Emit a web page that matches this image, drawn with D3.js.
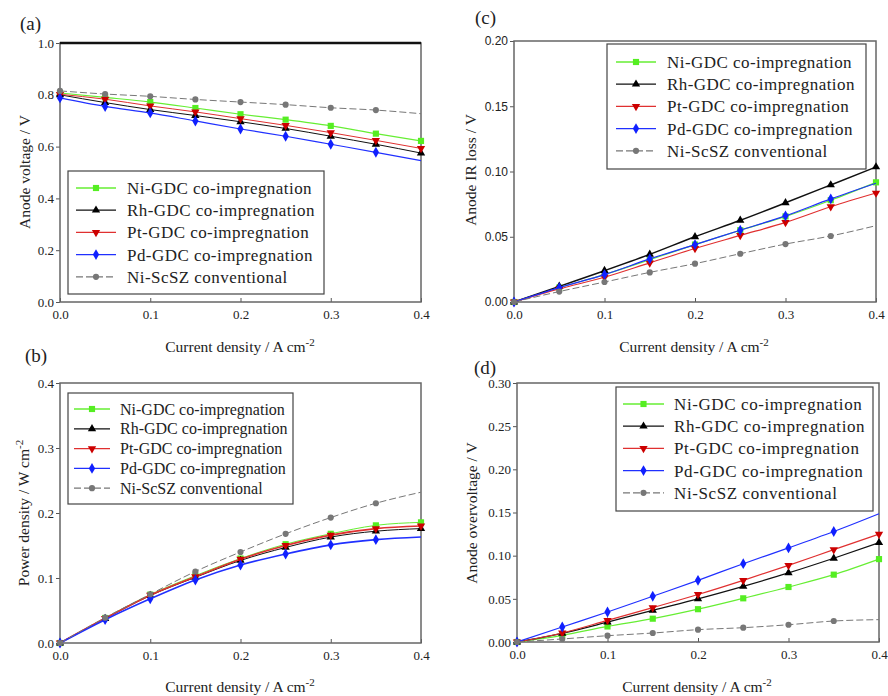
<!DOCTYPE html>
<html>
<head>
<meta charset="utf-8">
<script src="https://cdn.jsdelivr.net/npm/d3@7"></script>
<style>
  body { margin: 0; background: #fff; }
  svg { display: block; }
  text { font-family: "Liberation Serif", "Times New Roman", serif; fill: #222; }
</style>
</head>
<body>
<svg id="fig" width="888" height="696"></svg>
<script>
// current density steps, A cm-2
const currents = [0, 0.05, 0.1, 0.15, 0.2, 0.25, 0.3, 0.35, 0.4];

const seriesNames = [
  'Ni-GDC co-impregnation',
  'Rh-GDC co-impregnation',
  'Pt-GDC co-impregnation',
  'Pd-GDC co-impregnation',
  'Ni-ScSZ conventional',
];

// (a) anode voltage, V   (order: Ni, Rh, Pt, Pd, ScSZ)
const anodeVoltage = [
  [0.807, 0.790, 0.772, 0.749, 0.725, 0.704, 0.680, 0.650, 0.622],
  [0.800, 0.770, 0.743, 0.720, 0.696, 0.670, 0.640, 0.609, 0.575],
  [0.802, 0.783, 0.757, 0.734, 0.708, 0.682, 0.654, 0.624, 0.593],
  [0.788, 0.755, 0.730, 0.699, 0.668, 0.640, 0.609, 0.578, 0.546],
  [0.815, 0.803, 0.794, 0.782, 0.772, 0.762, 0.750, 0.741, 0.727],
];

// (b) power density, W cm-2
const powerDensity = [
  [0, 0.0385, 0.0744, 0.1036, 0.130, 0.152, 0.168, 0.181, 0.1856],
  [0, 0.0375, 0.0730, 0.1010, 0.127, 0.147, 0.163, 0.172, 0.176],
  [0, 0.0380, 0.0735, 0.1020, 0.129, 0.150, 0.166, 0.176, 0.180],
  [0, 0.0359, 0.0680, 0.0970, 0.120, 0.137, 0.151, 0.159, 0.163],
  [0, 0.0390, 0.0750, 0.1100, 0.140, 0.168, 0.193, 0.215, 0.232],
];

// (c) anode IR loss, V
const irLoss = [
  [0, 0.011, 0.021, 0.0324, 0.044, 0.055, 0.0656, 0.078, 0.0917],
  [0, 0.012, 0.024, 0.0365, 0.050, 0.0626, 0.076, 0.0897, 0.1035],
  [0, 0.010, 0.019, 0.030, 0.041, 0.051, 0.061, 0.073, 0.0835],
  [0, 0.011, 0.021, 0.033, 0.044, 0.055, 0.066, 0.079, 0.091],
  [0, 0.008, 0.0153, 0.0227, 0.0294, 0.037, 0.0444, 0.0506, 0.0585],
];

// (d) anode overvoltage, V
const overvoltage = [
  [0, 0.0077, 0.018, 0.027, 0.038, 0.0506, 0.0637, 0.078, 0.096],
  [0, 0.010, 0.023, 0.0367, 0.050, 0.0645, 0.080, 0.097, 0.115],
  [0, 0.0104, 0.025, 0.0398, 0.055, 0.0714, 0.0888, 0.107, 0.125],
  [0, 0.0174, 0.0347, 0.053, 0.0714, 0.0907, 0.109, 0.128, 0.1486],
  [0, 0.0035, 0.0073, 0.0104, 0.0143, 0.0166, 0.020, 0.0243, 0.0259],
];

const xTicks = [0, 0.1, 0.2, 0.3, 0.4];

const styles = [
  { line: '#66ee33', fill: '#55ee22', shape: d3.symbolSquare, size: 38, dash: null, lastMark: true },
  { line: '#111', fill: '#000', shape: d3.symbolTriangle, size: 30, dash: null, lastMark: true },
  { line: '#e03030', fill: '#cc0000', shape: 'down', size: 30, dash: null, lastMark: true },
  { line: '#2030ff', fill: '#1020ff', shape: d3.symbolDiamond, size: 34, dash: null, lastMark: false },
  { line: '#777', fill: '#777', shape: d3.symbolCircle, size: 30, dash: '7,3', lastMark: false },
];

const svg = d3.select('#fig');

function symbolPath(s) {
  if (s.shape === 'down') {
    return d3.symbol(d3.symbolTriangle, s.size)();
  }
  return d3.symbol(s.shape, s.size)();
}

function drawPanel(p) {
  const x = d3.scaleLinear().domain([0, 0.4]).range([p.x0, p.x1]);
  const y = d3.scaleLinear().domain([0, p.yMax]).range([p.yBot, p.yTop]);
  const g = svg.append('g');

  // axes
  const xAxis = g.append('g')
    .attr('transform', `translate(0,${p.yBot})`)
    .call(d3.axisBottom(x).tickValues(xTicks).tickFormat(d3.format('.1f'))
      .tickSizeInner(-4).tickSizeOuter(0).tickPadding(8));
  xAxis.select('.domain').remove();
  xAxis.selectAll('line').attr('stroke', '#555');
  xAxis.selectAll('text')
    .style('font-family', '"Liberation Serif", serif')
    .style('font-size', '13px').attr('fill', '#333');

  const yAxis = g.append('g')
    .attr('transform', `translate(${p.x0},0)`)
    .call(d3.axisLeft(y).tickValues(p.yTicks).tickFormat(d3.format(p.fmt))
      .tickSizeInner(4).tickSizeOuter(0).tickPadding(2));
  yAxis.select('.domain').remove();
  yAxis.selectAll('line').attr('stroke', '#555');
  yAxis.selectAll('text')
    .style('font-family', p.tickFont)
    .style('font-size', p.tickSize).attr('fill', '#333');

  // frame
  g.append('rect')
    .attr('x', p.x0).attr('y', p.yTop)
    .attr('width', p.x1 - p.x0).attr('height', p.yBot - p.yTop)
    .attr('fill', 'none').attr('stroke', '#666').attr('stroke-width', 1.5);
  if (p.thickTop) {
    g.append('line')
      .attr('x1', p.x0).attr('x2', p.x1)
      .attr('y1', p.yTop).attr('y2', p.yTop)
      .attr('stroke', '#111').attr('stroke-width', 2.5);
  }

  // series
  const line = d3.line()
    .x((d, i) => x(currents[i]))
    .y((d) => y(d))
    .curve(d3.curveMonotoneX);

  p.data.forEach((vals, k) => {
    const s = styles[k];
    g.append('path')
      .datum(vals)
      .attr('d', line)
      .attr('fill', 'none')
      .attr('stroke', s.line)
      .attr('stroke-width', p.widths[k])
      .attr('stroke-dasharray', s.dash);
    const pts = s.lastMark ? vals : vals.slice(0, vals.length - 1);
    g.selectAll(null)
      .data(pts)
      .enter()
      .append('path')
      .attr('d', symbolPath(s))
      .attr('transform', (d, i) => `translate(${x(currents[i])},${y(d)})${s.shape === 'down' ? ' rotate(180)' : ''}`)
      .attr('fill', s.fill);
  });

  // legend
  const L = p.legend;
  g.append('rect')
    .attr('x', L.x).attr('y', L.y)
    .attr('width', L.w).attr('height', L.h)
    .attr('fill', '#fff').attr('stroke', '#444').attr('stroke-width', 1.2);
  seriesNames.forEach((name, k) => {
    const s = styles[k];
    const ry = L.row0 + k * L.step;
    g.append('line')
      .attr('x1', L.lx0).attr('x2', L.lx1)
      .attr('y1', ry).attr('y2', ry)
      .attr('stroke', s.line).attr('stroke-width', 1.3)
      .attr('stroke-dasharray', s.dash);
    g.append('path')
      .attr('d', symbolPath(s))
      .attr('transform', `translate(${(L.lx0 + L.lx1) / 2},${ry})${s.shape === 'down' ? ' rotate(180)' : ''}`)
      .attr('fill', s.fill);
    g.append('text')
      .attr('x', L.tx).attr('y', ry)
      .attr('dy', '0.35em')
      .style('font-size', L.font)
      .style('letter-spacing', L.spacing)
      .attr('fill', '#111')
      .text(name);
  });

  // panel letter
  svg.append('text')
    .attr('x', p.tag[0]).attr('y', p.tag[1])
    .style('font-size', '19px').attr('fill', '#222')
    .text(p.tagText);

  // axis titles
  const xl = svg.append('text')
    .attr('x', p.xLabel[0]).attr('y', p.xLabel[1])
    .attr('text-anchor', 'middle')
    .style('font-size', '15.5px').attr('fill', '#111');
  xl.append('tspan').text('Current density / A cm');
  xl.append('tspan').attr('dy', -6).style('font-size', '11px').text('-2');

  const yl = svg.append('text')
    .attr('transform', `translate(${p.yLabel[0]},${p.yLabel[1]}) rotate(-90)`)
    .attr('text-anchor', 'middle')
    .style('font-size', '15.5px').attr('fill', '#111');
  yl.append('tspan').text(p.yText);
  if (p.ySup) {
    yl.append('tspan').attr('dy', -6).style('font-size', '11px').text(p.ySup);
  }
}

const serifTicks = '"Liberation Serif", serif';
const sansTicks = '"Liberation Sans", Arial, sans-serif';

drawPanel({
  data: anodeVoltage, x0: 60, x1: 421, yTop: 43, yBot: 302, yMax: 1.0,
  yTicks: [0, 0.2, 0.4, 0.6, 0.8, 1.0], fmt: '.1f', tickFont: serifTicks, tickSize: '13px',
  widths: [1.2, 1, 1, 1.2, 1], thickTop: true,
  legend: { x: 68, y: 171, w: 256, h: 123, row0: 188, step: 22.2, lx0: 76, lx1: 116, tx: 127, font: '17px', spacing: '0.45px' },
  tag: [20, 30], tagText: '(a)', xLabel: [240, 352], yLabel: [30, 172], yText: 'Anode voltage / V',
});

drawPanel({
  data: irLoss, x0: 514, x1: 876, yTop: 41, yBot: 302, yMax: 0.2,
  yTicks: [0, 0.05, 0.1, 0.15, 0.2], fmt: '.2f', tickFont: sansTicks, tickSize: '12px',
  widths: [1.2, 1.5, 1.2, 1.2, 1], thickTop: false,
  legend: { x: 607, y: 44, w: 259, h: 125, row0: 62, step: 22.2, lx0: 616, lx1: 656, tx: 667, font: '17px', spacing: '0.45px' },
  tag: [475, 24], tagText: '(c)', xLabel: [694, 352], yLabel: [476, 170], yText: 'Anode IR loss / V',
});

drawPanel({
  data: powerDensity, x0: 60, x1: 421, yTop: 383, yBot: 643, yMax: 0.4,
  yTicks: [0, 0.1, 0.2, 0.3, 0.4], fmt: '.1f', tickFont: serifTicks, tickSize: '13px',
  widths: [1, 1, 1.6, 1.6, 1], thickTop: false,
  legend: { x: 68, y: 393, w: 225, h: 111, row0: 409, step: 19.8, lx0: 74, lx1: 110, tx: 120, font: '16px', spacing: '0px' },
  tag: [25, 362], tagText: '(b)', xLabel: [240, 692], yLabel: [29, 513], yText: 'Power density / W cm', ySup: '-2',
});

drawPanel({
  data: overvoltage, x0: 517, x1: 879, yTop: 383, yBot: 642, yMax: 0.3,
  yTicks: [0, 0.05, 0.1, 0.15, 0.2, 0.25, 0.3], fmt: '.2f', tickFont: serifTicks, tickSize: '13px',
  widths: [1.2, 1.2, 1.2, 1.2, 1], thickTop: false,
  legend: { x: 616, y: 387, w: 257, h: 124, row0: 404, step: 22.2, lx0: 623, lx1: 664, tx: 674, font: '17px', spacing: '0.6px' },
  tag: [474, 374], tagText: '(d)', xLabel: [697, 692], yLabel: [477, 513], yText: 'Anode overvoltage / V',
});
</script>
</body>
</html>
